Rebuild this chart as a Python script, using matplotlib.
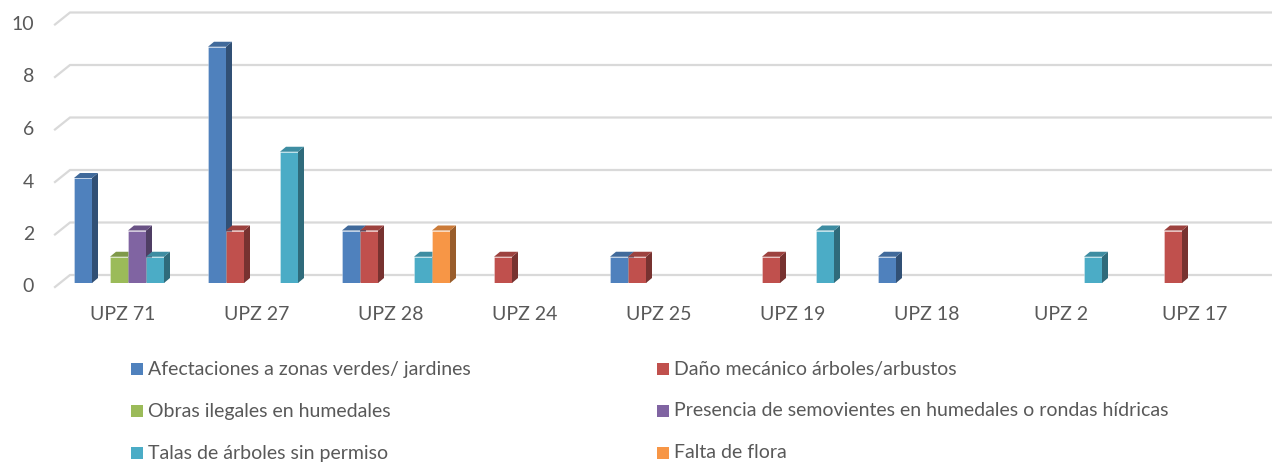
import matplotlib
matplotlib.use("Agg")
import matplotlib.pyplot as plt
from matplotlib.patches import Polygon, Rectangle
from matplotlib.transforms import ScaledTranslation, blended_transform_factory
import matplotlib.colors as mcolors

plt.rcParams['font.family'] = ['Lato', 'DejaVu Sans']

categories = ["UPZ 71", "UPZ 27", "UPZ 28", "UPZ 24", "UPZ 25", "UPZ 19", "UPZ 18", "UPZ 2", "UPZ 17"]
series_names = [
    "Afectaciones a zonas verdes/ jardines",
    "Daño mecánico árboles/arbustos",
    "Obras ilegales en humedales",
    "Presencia de semovientes en humedales o rondas hídricas",
    "Talas de árboles sin permiso",
    "Falta de flora",
]
afectaciones = [4, 9, 2, 0, 1, 0, 1, 0, 0]
dano_mecanico = [0, 2, 2, 1, 1, 1, 0, 0, 2]
obras_ilegales = [1, 0, 0, 0, 0, 0, 0, 0, 0]
semovientes = [2, 0, 0, 0, 0, 0, 0, 0, 0]
talas = [1, 5, 1, 0, 0, 2, 0, 1, 0]
falta_flora = [0, 0, 2, 0, 0, 0, 0, 0, 0]
series_values = [afectaciones, dano_mecanico, obras_ilegales, semovientes, talas, falta_flora]
y_ticks = [0, 2, 4, 6, 8, 10]

colors = ["#4F81BD", "#C0504D", "#9BBB59", "#8064A2", "#4BACC6", "#F79646"]
text_color = "#595959"
grid_color = "#D9D9D9"

W, H = 1272, 462
fig = plt.figure(figsize=(W / 100, H / 100), dpi=100)
ax = fig.add_axes([55 / W, 179 / H, (W - 55) / W, 262.5 / H])
xmin, xmax = -73 / 134, (W - 128) / 134
ax.set_xlim(xmin, xmax)
ax.set_ylim(0, 10)
ax.axis('off')

def px(dx, dy):
    return ScaledTranslation(dx / 100, dy / 100, fig.dpi_scale_trans)

# back wall gridlines with 3D diagonal on the left
for v in y_ticks:
    ax.plot([xmin, xmin], [v, v], alpha=0)
    front = ax.transData + px(0, -4)
    back = ax.transData + px(15, 8)
    # compute display coords for diagonal
    p0 = front.transform((xmin, v))
    p1 = back.transform((xmin, v))
    p2 = back.transform((xmax, v))
    inv = ax.transData.inverted()
    q0, q1, q2 = inv.transform(p0), inv.transform(p1), inv.transform(p2)
    ax.plot([q0[0], q1[0], q2[0] + 1], [q0[1], q1[1], q2[1]], color=grid_color,
            lw=1.6, clip_on=False, zorder=1, solid_joinstyle='miter')

# y tick labels on front plane
ytrans = blended_transform_factory(ax.transAxes, ax.transData) + px(-21, -4)
for v in y_ticks:
    ax.text(0, v, str(v), transform=ytrans, ha='right', va='center',
            fontsize=14, color=text_color)

# 3D bars
sw = 18 / 134
ddx = 6 / 134
ddy = 5 / 26.25

def shade(c, f):
    r, g, b = mcolors.to_rgb(c)
    return (r * f, g * f, b * f)

z = 2
for i in range(len(categories)):
    for j, vals in enumerate(series_values):
        v = vals[i]
        if v <= 0:
            continue
        x = i + (j - 3) * sw
        c = colors[j]
        ax.bar(x, v, width=sw, align='edge', color=c, edgecolor=(1, 1, 1, 0.35),
               linewidth=0.6, zorder=z)
        side = Polygon([(x + sw, 0), (x + sw + ddx, ddy), (x + sw + ddx, v + ddy), (x + sw, v)],
                       closed=True, facecolor=shade(c, 0.62), edgecolor='none', zorder=z)
        top = Polygon([(x, v), (x + ddx, v + ddy), (x + sw + ddx, v + ddy), (x + sw, v)],
                      closed=True, facecolor=shade(c, 0.82), edgecolor='none', zorder=z)
        ax.add_patch(side)
        ax.add_patch(top)
        z += 1

# category labels
for i, cat in enumerate(categories):
    ax.text(i, 0, cat, transform=ax.transData + px(-5, -31), ha='center', va='center',
            fontsize=14, color=text_color)

# legend (2 columns, 3 rows)
rows_y = [369, 411, 453]
cols_x = [131, 657]
for k, name in enumerate(series_names):
    r, cidx = k // 2, k % 2
    xm = cols_x[cidx]
    yc = rows_y[r]
    fig.patches.append(Rectangle((xm / W, (H - yc - 6) / H), 12 / W, 12 / H,
                                 transform=fig.transFigure, facecolor=colors[k],
                                 edgecolor='none'))
    fig.text((xm + 17) / W, (H - yc) / H, name, ha='left', va='center',
             fontsize=14, color=text_color)

fig.savefig("out.png", dpi=100)
